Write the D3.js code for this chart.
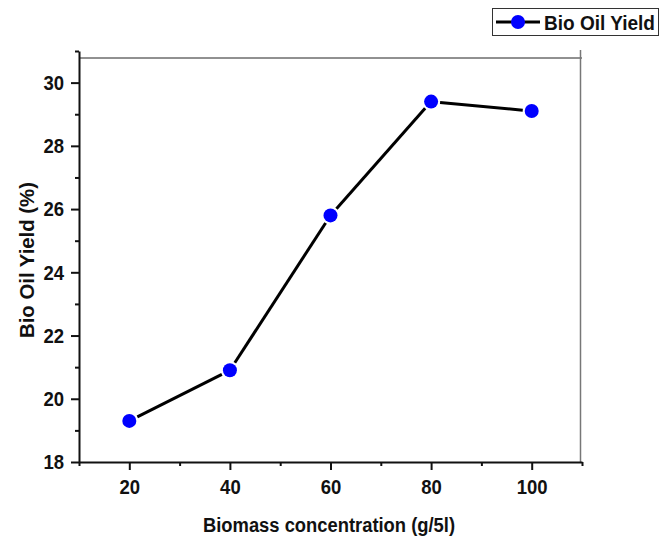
<!DOCTYPE html>
<html>
<head>
<meta charset="utf-8">
<script src="https://cdn.jsdelivr.net/npm/d3@7"></script>
<style>
  body { margin: 0; background: #fff; }
  svg { font-family: "Liberation Sans", Arial, sans-serif; font-weight: bold; }
</style>
</head>
<body>
<div id="chart"></div>
<script>
// data
const concentration = [20, 40, 60, 80, 100];
const oilYield = [19.3, 20.9, 25.8, 29.4, 29.1];
const xTicks = [20, 40, 60, 80, 100];
const xMinor = [10, 30, 50, 70, 90, 110];
const yTicks = [18, 20, 22, 24, 26, 28, 30];
const yMinor = [19, 21, 23, 25, 27, 29, 31];
const seriesName = "Bio Oil Yield";

const width = 659, height = 539;

const svg = d3.select("#chart")
              .append("svg")
              .attr("width", width)
              .attr("height", height);

// scales
const x = d3.scaleLinear().domain([10, 110]).range([79, 582]);
const y = d3.scaleLinear().domain([18, 31]).range([462, 51]);

// frame top and right
svg.append("line")
   .attr("x1", 79).attr("x2", 582)
   .attr("y1", 58).attr("y2", 58)
   .attr("stroke", "#222").attr("stroke-width", 1);
svg.append("line")
   .attr("x1", 580.5).attr("x2", 580.5)
   .attr("y1", 50).attr("y2", 462)
   .attr("stroke", "#777").attr("stroke-width", 1.5);

// x axis
svg.append("g")
   .attr("transform", `translate(0,462)`)
   .call(d3.axisBottom(x).tickValues(xTicks).tickSize(8).tickPadding(9).tickSizeOuter(0));
svg.append("g")
   .attr("transform", `translate(0,462)`)
   .call(d3.axisBottom(x).tickValues(xMinor).tickSize(4).tickFormat("").tickSizeOuter(0))
   .select(".domain").remove();

// y axis
svg.append("g")
   .attr("transform", `translate(79,0)`)
   .call(d3.axisLeft(y).tickValues(yTicks).tickSize(8).tickPadding(7).tickSizeOuter(0));
svg.append("g")
   .attr("transform", `translate(79,0)`)
   .call(d3.axisLeft(y).tickValues(yMinor).tickSize(4).tickFormat("").tickSizeOuter(0))
   .select(".domain").remove();

// the original font is a narrow bold one, so squeeze the glyphs a bit
svg.selectAll(".tick text")
   .attr("font-size", 21)
   .attr("font-family", "Liberation Sans, Arial, sans-serif")
   .attr("font-weight", "bold")
   .attr("fill", "#111")
   .attr("textLength", function() { return this.textContent.length * 10.3; })
   .attr("lengthAdjust", "spacingAndGlyphs");
svg.selectAll(".domain, .tick line")
   .attr("stroke", "#111")
   .attr("stroke-width", 2);

// axis titles
svg.append("text")
   .attr("x", 329)
   .attr("y", 532)
   .attr("text-anchor", "middle")
   .attr("font-size", 20)
   .attr("textLength", 252)
   .attr("lengthAdjust", "spacingAndGlyphs")
   .attr("fill", "#111")
   .text("Biomass concentration (g/5l)");

svg.append("text")
   .attr("transform", "translate(34,260) rotate(-90)")
   .attr("text-anchor", "middle")
   .attr("font-size", 21)
   .attr("textLength", 156)
   .attr("lengthAdjust", "spacingAndGlyphs")
   .attr("fill", "#111")
   .text("Bio Oil Yield (%)");

// line, drawn segment by segment with a small gap at the symbols
const r = 7, gap = r + 2;
const pts = concentration.map((c, i) => [x(c), y(oilYield[i])]);
for (let i = 0; i < pts.length - 1; i++) {
    const [x1, y1] = pts[i], [x2, y2] = pts[i + 1];
    const len = Math.hypot(x2 - x1, y2 - y1);
    const ux = (x2 - x1) / len, uy = (y2 - y1) / len;
    svg.append("line")
       .attr("x1", x1 + ux * gap).attr("y1", y1 + uy * gap)
       .attr("x2", x2 - ux * gap).attr("y2", y2 - uy * gap)
       .attr("stroke", "#000")
       .attr("stroke-width", 3);
}

svg.selectAll("circle.pt")
   .data(concentration)
   .enter().append("circle")
   .attr("class", "pt")
   .attr("cx", d => x(d))
   .attr("cy", (d, i) => y(oilYield[i]))
   .attr("r", r)
   .attr("fill", "#0000ff");

// legend
const legend = svg.append("g");
legend.append("rect")
      .attr("x", 492.5).attr("y", 8.5)
      .attr("width", 166).attr("height", 27)
      .attr("fill", "#fff")
      .attr("stroke", "#333").attr("stroke-width", 1);
legend.append("line")
      .attr("x1", 496).attr("x2", 540)
      .attr("y1", 22).attr("y2", 22)
      .attr("stroke", "#000").attr("stroke-width", 3);
legend.append("circle")
      .attr("cx", 518).attr("cy", 22).attr("r", r)
      .attr("fill", "#0000ff");
legend.append("text")
      .attr("x", 544).attr("y", 30)
      .attr("font-size", 21)
      .attr("textLength", 111)
      .attr("lengthAdjust", "spacingAndGlyphs")
      .attr("fill", "#111")
      .text(seriesName);
</script>
</body>
</html>
